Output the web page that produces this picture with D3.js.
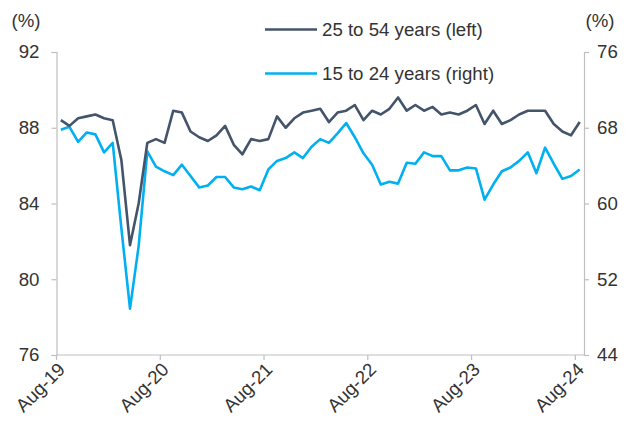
<!DOCTYPE html>
<html>
<head>
<meta charset="utf-8">
<script src="https://cdn.jsdelivr.net/npm/d3@7"></script>
<style>
  body { margin: 0; background: #fff; }
  text { font-family: "Liberation Sans", Arial, sans-serif; fill: #333; }
</style>
</head>
<body>
<div id="chart"></div>
<script>
// Monthly, Aug-19 .. Aug-24
const startMonth = new Date(2019, 7, 1);
const monthCount = 61;

// 25 to 54 years, left axis (%)
const prime = [
  88.4, 88.1, 88.5, 88.6, 88.7, 88.5, 88.4, 86.3, 81.8, 84.0, 87.2, 87.4,
  87.2, 88.9, 88.8, 87.8, 87.5, 87.3, 87.6, 88.1, 87.1, 86.6, 87.4, 87.3,
  87.4, 88.6, 88.0, 88.5, 88.8, 88.9, 89.0, 88.3, 88.8, 88.9, 89.2, 88.4,
  88.9, 88.7, 89.0, 89.6, 88.9, 89.2, 88.9, 89.1, 88.7, 88.8, 88.7, 88.9,
  89.2, 88.2, 88.9, 88.2, 88.4, 88.7, 88.9, 88.9, 88.9, 88.2, 87.8, 87.6,
  88.3
];

// 15 to 24 years, right axis (%)
const youth = [
  67.8, 68.1, 66.5, 67.5, 67.3, 65.4, 66.4, 57.4, 48.9, 55.5, 65.5, 63.9,
  63.4, 63.0, 64.1, 62.9, 61.7, 61.9, 62.8, 62.8, 61.7, 61.5, 61.8, 61.4,
  63.6, 64.5, 64.8, 65.4, 64.8, 66.0, 66.8, 66.4, 67.4, 68.5, 67.0, 65.3,
  64.1, 62.0, 62.3, 62.1, 64.3, 64.2, 65.4, 65.0, 65.0, 63.5, 63.5, 63.8,
  63.7, 60.4, 62.0, 63.4, 63.8, 64.5, 65.4, 63.2, 65.9, 64.2, 62.6, 62.9,
  63.6
];

const leftTicks = [76, 80, 84, 88, 92];
const rightTicks = [44, 52, 60, 68, 76];
const seriesNames = ['25 to 54 years (left)', '15 to 24 years (right)'];
const seriesColors = ['#44546a', '#00b0f0'];

const width = 630;
const height = 424;
const plot = {left: 56.5, right: 584, top: 52, bottom: 355};
const fontSize = '18.67px';

const months = d3.range(monthCount).map(i => d3.timeMonth.offset(startMonth, i));
const fmt = d3.timeFormat('%b-%y');

const svg = d3.select('#chart')
  .append('svg')
  .attr('width', width)
  .attr('height', height);

// Category style x axis: points sit in the middle of each month band
const x = d3.scaleBand()
  .domain(months)
  .range([plot.left, plot.right]);
const yLeft = d3.scaleLinear().domain([76, 92]).range([plot.bottom, plot.top]);
const yRight = d3.scaleLinear().domain([44, 76]).range([plot.bottom, plot.top]);

const axisColor = '#bfbfbf';

// Left axis
const gLeft = svg.append('g')
  .attr('transform', `translate(${plot.left},0)`)
  .call(d3.axisLeft(yLeft).tickValues(leftTicks).tickSize(5).tickPadding(12));
// Right axis
const gRight = svg.append('g')
  .attr('transform', `translate(${plot.right},0)`)
  .call(d3.axisRight(yRight).tickValues(rightTicks).tickSize(5).tickPadding(8));

[gLeft, gRight].forEach(g => {
  g.select('.domain').attr('stroke', axisColor).attr('stroke-width', 1.2);
  g.selectAll('.tick line').attr('stroke', axisColor).attr('stroke-width', 1.2);
  g.selectAll('.tick text')
    .style('font-size', fontSize)
    .style('font-family', '"Liberation Sans", Arial, sans-serif')
    .attr('fill', '#333');
});

// Bottom axis: ticks on the left edge of every August band
const augusts = months.filter(d => d.getMonth() === 7);
const gBottom = svg.append('g');
gBottom.append('line')
  .attr('x1', plot.left).attr('x2', plot.right)
  .attr('y1', plot.bottom).attr('y2', plot.bottom)
  .attr('stroke', axisColor).attr('stroke-width', 1.2);
const xTick = gBottom.selectAll('g.xt')
  .data(augusts)
  .enter()
  .append('g')
  .attr('class', 'xt')
  .attr('transform', d => `translate(${x(d)},${plot.bottom})`);
xTick.append('line')
  .attr('y2', 5)
  .attr('stroke', axisColor).attr('stroke-width', 1.2);
xTick.append('text')
  .text(d => fmt(d))
  .attr('transform', 'translate(5,11) rotate(-45)')
  .attr('text-anchor', 'end')
  .attr('dy', '0.35em')
  .style('font-size', fontSize);

// Units
svg.append('text').text('(%)').attr('x', 26).attr('y', 27)
  .attr('text-anchor', 'middle').style('font-size', fontSize);
svg.append('text').text('(%)').attr('x', 600).attr('y', 27)
  .attr('text-anchor', 'middle').style('font-size', fontSize);

// Lines
const cx = d => x(d) + x.bandwidth() / 2;
const lineLeft = d3.line().x((d, i) => cx(months[i])).y(d => yLeft(d));
const lineRight = d3.line().x((d, i) => cx(months[i])).y(d => yRight(d));

svg.append('path')
  .datum(youth)
  .attr('d', lineRight)
  .attr('fill', 'none')
  .attr('stroke', seriesColors[1])
  .attr('stroke-width', 2.6)
  .attr('stroke-linejoin', 'round');

svg.append('path')
  .datum(prime)
  .attr('d', lineLeft)
  .attr('fill', 'none')
  .attr('stroke', seriesColors[0])
  .attr('stroke-width', 2.6)
  .attr('stroke-linejoin', 'round');

// Legend
const legend = svg.append('g')
  .selectAll('g')
  .data(seriesNames)
  .enter()
  .append('g')
  .attr('transform', (d, i) => `translate(265, ${29.5 + i * 44})`);
legend.append('line')
  .attr('x1', 0).attr('x2', 52)
  .attr('stroke', (d, i) => seriesColors[i])
  .attr('stroke-width', 2.6);
legend.append('text')
  .text(d => d)
  .attr('x', 57)
  .attr('dy', '0.35em')
  .style('font-size', fontSize);
</script>
</body>
</html>
